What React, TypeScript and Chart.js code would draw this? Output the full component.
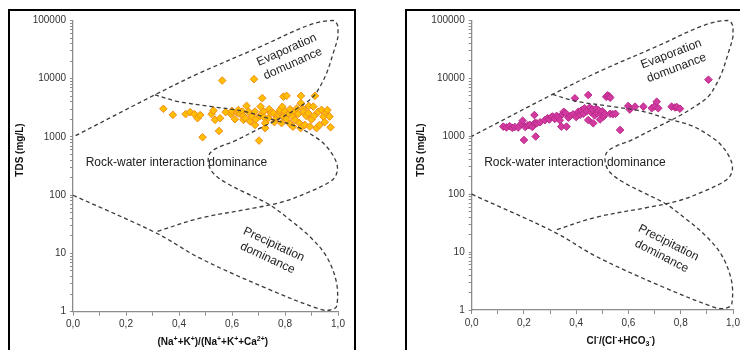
import { useEffect, useRef } from "react";
import { Chart, registerables } from "chart.js";

Chart.register(...registerables);

// Gibbs boundary curves: ratio (x) and TDS in mg/L (y)
const OUTER_RATIO = [0, 0.316, 0.479, 0.73, 0.932, 0.97, 0.995, 0.995, 0.957, 0.894, 0.819, 0.743, 0.655, 0.58, 0.529, 0.511, 0.517, 0.555, 0.605, 0.706, 0.794, 0.857, 0.907, 0.932, 0.957, 0.982, 1.0, 1.0, 0.982, 0.894, 0.706, 0.479, 0.309, 0];
const OUTER_TDS = [100, 22.2, 8.3, 2.52, 1.1, 1.07, 1.25, 3.08, 8.8, 19.4, 37.7, 68, 108, 161, 239, 355, 527, 684, 834, 1416, 2243, 3327, 4940, 7340, 12470, 27500, 53100, 78800, 100000, 84400, 35300, 12600, 5290, 1000];
const INNER_RATIO = [0.309, 0.397, 0.523, 0.649, 0.756, 0.844, 0.919, 0.955, 0.985, 0.998, 0.99, 0.965, 0.894, 0.794, 0.68, 0.479, 0.316];
const INNER_TDS = [5290, 4060, 3330, 2730, 1970, 1510, 966, 700, 450, 300, 210, 165, 115, 77.6, 59.8, 40.3, 23.7];

// Samples: (Na+K)/(Na+K+Ca) vs TDS
const CATION_RATIO = [0.341, 0.377, 0.425, 0.442, 0.458, 0.47, 0.48, 0.489, 0.523, 0.53, 0.536, 0.551, 0.555, 0.563, 0.576, 0.596, 0.6, 0.611, 0.621, 0.624, 0.63, 0.639, 0.643, 0.643, 0.65, 0.655, 0.662, 0.668, 0.675, 0.683, 0.687, 0.687, 0.69, 0.702, 0.706, 0.708, 0.714, 0.719, 0.72, 0.725, 0.725, 0.737, 0.74, 0.746, 0.756, 0.76, 0.768, 0.775, 0.78, 0.781, 0.787, 0.79, 0.794, 0.794, 0.8, 0.806, 0.806, 0.815, 0.819, 0.819, 0.83, 0.83, 0.838, 0.838, 0.845, 0.85, 0.854, 0.859, 0.86, 0.86, 0.869, 0.87, 0.875, 0.88, 0.888, 0.89, 0.894, 0.9, 0.907, 0.91, 0.913, 0.919, 0.925, 0.93, 0.938, 0.945, 0.95, 0.955, 0.96, 0.968, 0.972];
const CATION_TDS = [3050, 2400, 2470, 2670, 2470, 2100, 2380, 990, 2470, 2840, 1970, 1270, 2100, 9310, 2670, 2470, 2800, 2020, 2630, 2900, 2500, 2730, 1970, 2300, 2100, 3420, 2730, 1850, 2240, 9840, 2730, 1610, 2000, 867, 2300, 3330, 4640, 2730, 2200, 1730, 1420, 2100, 3000, 2570, 2570, 1800, 2100, 2400, 2700, 2920, 1730, 3300, 4940, 2240, 2730, 5080, 2020, 2500, 3000, 1680, 2250, 1500, 2730, 1970, 3100, 2500, 1730, 1420, 5080, 3810, 3000, 2700, 1610, 2300, 2570, 3400, 1510, 2000, 3330, 2300, 5080, 1420, 2700, 1600, 2920, 2240, 1800, 2630, 2900, 2240, 1470];

// Samples: Cl/(Cl+HCO3) vs TDS
const ANION_RATIO = [0.121, 0.133, 0.145, 0.155, 0.165, 0.178, 0.19, 0.195, 0.2, 0.205, 0.215, 0.223, 0.232, 0.24, 0.242, 0.245, 0.249, 0.262, 0.28, 0.29, 0.297, 0.305, 0.31, 0.318, 0.325, 0.332, 0.337, 0.343, 0.347, 0.352, 0.36, 0.363, 0.37, 0.378, 0.388, 0.395, 0.4, 0.408, 0.415, 0.42, 0.427, 0.432, 0.44, 0.446, 0.446, 0.452, 0.457, 0.462, 0.465, 0.47, 0.476, 0.48, 0.486, 0.491, 0.496, 0.5, 0.505, 0.51, 0.515, 0.52, 0.526, 0.53, 0.53, 0.54, 0.55, 0.568, 0.599, 0.605, 0.625, 0.657, 0.689, 0.7, 0.708, 0.714, 0.765, 0.778, 0.785, 0.797, 0.906];
const ANION_TDS = [1470, 1420, 1500, 1400, 1450, 1420, 1650, 1860, 863, 1450, 1550, 1570, 1450, 2330, 1700, 990, 1680, 1750, 1900, 2050, 1950, 2150, 2200, 2000, 2250, 2100, 1900, 1470, 2400, 2650, 2500, 1470, 2100, 2250, 2400, 4530, 2150, 2650, 2350, 2800, 2450, 3050, 2700, 1910, 5170, 3150, 2600, 2900, 1680, 2300, 3000, 2500, 2800, 1950, 2400, 2700, 2200, 2450, 4800, 5100, 4900, 4650, 2450, 2400, 2450, 1285, 3340, 2900, 3250, 3250, 3050, 3300, 3960, 3050, 3250, 3150, 3200, 3000, 9500];

const Y_DECADES = [1, 10, 100, 1000, 10000];
const Y_MAX = 100000;
const X_LABEL_STEP = 0.2;

const FONT = "'Liberation Sans', Arial, sans-serif";

type Seg = { t: string; s?: "sup" | "sub" };
type Note = { lines: string[]; x: number; y: number; rot: number };

const CATION_TITLE: Seg[] = [
  { t: "(Na" }, { t: "+", s: "sup" }, { t: "+K" }, { t: "+", s: "sup" }, { t: ")/(Na" }, { t: "+", s: "sup" },
  { t: "+K" }, { t: "+", s: "sup" }, { t: "+Ca" }, { t: "2+", s: "sup" }, { t: ")" },
];
const ANION_TITLE: Seg[] = [
  { t: "Cl" }, { t: "-", s: "sup" }, { t: "/(Cl" }, { t: "-", s: "sup" }, { t: "+HCO" }, { t: "3", s: "sub" },
  { t: "-", s: "sup" }, { t: ")" },
];

function drawRich(ctx: CanvasRenderingContext2D, segs: Seg[], cx: number, cy: number, size: number) {
  const base = `bold ${size}px ${FONT}`;
  const small = `bold ${Math.round(size * 0.72)}px ${FONT}`;
  let total = 0;
  const widths = segs.map((s) => {
    ctx.font = s.s ? small : base;
    const w = ctx.measureText(s.t).width;
    total += w;
    return w;
  });
  ctx.save();
  ctx.textAlign = "left";
  ctx.textBaseline = "alphabetic";
  let x = cx - total / 2;
  const bl = cy + size * 0.36;
  segs.forEach((s, i) => {
    ctx.font = s.s ? small : base;
    const dy = s.s === "sup" ? -size * 0.42 : s.s === "sub" ? size * 0.22 : 0;
    ctx.fillText(s.t, x, bl + dy);
    x += widths[i];
  });
  ctx.restore();
}

type PanelProps = {
  left: number;
  width: number;
  area: { left: number; right: number; top: number; bottom: number };
  ratio: number[];
  tds: number[];
  fill: string;
  stroke: string;
  xTitle: Seg[];
  xTitlePos: [number, number];
  yTitlePos: [number, number];
  notes: Note[];
};

function Panel(p: PanelProps) {
  const ref = useRef<HTMLCanvasElement>(null);
  useEffect(() => {
    const canvas = ref.current!;
    const H = 350;
    const samples = p.ratio.map((x, i) => ({ x, y: p.tds[i] }));
    const outer = OUTER_RATIO.map((x, i) => ({ x, y: OUTER_TDS[i] }));
    const inner = INNER_RATIO.map((x, i) => ({ x, y: INNER_TDS[i] }));
    const lineDs = (data: { x: number; y: number }[]) => ({
      data,
      showLine: true,
      pointRadius: 0,
      borderColor: "#3a3a3a",
      borderWidth: 1.3,
      borderDash: [4, 3],
      tension: 0.35,
      fill: false,
      clip: 8,
    });
    const textPlugin = {
      id: "gibbsText",
      afterDatasetsDraw(chart: any) {
        const ctx: CanvasRenderingContext2D = chart.ctx;
        const xs = chart.scales.x;
        const ys = chart.scales.y;
        ctx.save();
        ctx.fillStyle = "#222";
        ctx.font = `12px ${FONT}`;
        ctx.textAlign = "center";
        ctx.textBaseline = "middle";
        p.notes.forEach((n) => {
          const cx = xs.getPixelForValue(n.x);
          const cy = ys.getPixelForValue(n.y);
          ctx.save();
          ctx.translate(cx, cy);
          ctx.rotate((n.rot * Math.PI) / 180);
          n.lines.forEach((l, i) => {
            ctx.fillText(l, 0, (i - (n.lines.length - 1) / 2) * 15);
          });
          ctx.restore();
        });
        ctx.fillStyle = "#111";
        drawRich(ctx, p.xTitle, p.xTitlePos[0], p.xTitlePos[1], 10);
        ctx.save();
        ctx.translate(p.yTitlePos[0], p.yTitlePos[1]);
        ctx.rotate(-Math.PI / 2);
        ctx.font = `bold 10px ${FONT}`;
        ctx.textAlign = "center";
        ctx.textBaseline = "middle";
        ctx.fillText("TDS (mg/L)", 0, 0);
        ctx.restore();
        ctx.restore();
      },
    };
    const chart = new Chart(canvas, {
      type: "scatter",
      data: {
        datasets: [
          lineDs(outer) as any,
          lineDs(inner) as any,
          {
            data: samples,
            pointStyle: "rectRot",
            pointRadius: 3.8,
            pointBackgroundColor: p.fill,
            pointBorderColor: p.stroke,
            pointBorderWidth: 1,
            showLine: false,
          },
        ],
      },
      options: {
        responsive: false,
        animation: false,
        events: [],
        layout: { padding: { left: 0, top: p.area.top, right: p.width - p.area.right, bottom: 0 } },
        plugins: { legend: { display: false }, tooltip: { enabled: false } },
        scales: {
          x: {
            type: "linear",
            min: 0,
            max: 1,
            afterFit: (s: any) => {
              s.height = H - p.area.bottom;
            },
            ticks: {
              stepSize: 0.1,
              autoSkip: false,
              maxRotation: 0,
              padding: 3,
              color: "#333",
              font: { family: FONT, size: 10 },
              callback: (v: any) => {
                const n = Math.round(Number(v) * 10);
                return n % Math.round(X_LABEL_STEP * 10) === 0 ? (n / 10).toFixed(1).replace(".", ",") : "";
              },
            },
            grid: { drawOnChartArea: false, drawTicks: true, tickLength: 4, color: "#8c8c8c" },
            border: { color: "#8c8c8c", width: 1.3 },
          },
          y: {
            type: "logarithmic",
            min: 1,
            max: Y_MAX,
            afterFit: (s: any) => {
              s.width = p.area.left;
            },
            afterBuildTicks: (s: any) => {
              const t: { value: number }[] = [];
              Y_DECADES.forEach((d) => {
                for (let m = 1; m < 10; m++) t.push({ value: m * d });
              });
              t.push({ value: Y_MAX });
              s.ticks = t;
            },
            ticks: {
              autoSkip: false,
              padding: 4,
              color: "#333",
              font: { family: FONT, size: 10 },
              callback: (v: any) => {
                const n = Number(v);
                return n === Y_MAX || Y_DECADES.includes(n) ? String(n) : "";
              },
            },
            grid: { drawOnChartArea: false, drawTicks: true, tickLength: 3, color: "#8c8c8c" },
            border: { color: "#8c8c8c", width: 1.3 },
          },
        },
      },
      plugins: [textPlugin],
    });
    return () => chart.destroy();
  }, []);
  return (
    <canvas
      ref={ref}
      width={p.width}
      height={350}
      style={{ position: "absolute", left: p.left, top: 0, width: p.width, height: 350 }}
    />
  );
}

export default function App() {
  return (
    <div style={{ position: "fixed", left: 0, top: 0, width: 740, height: 350, overflow: "hidden", background: "#fff" }}>
      <div style={{ position: "absolute", left: 8, top: 9, width: 348, height: 400, border: "2px solid #000", boxSizing: "border-box" }} />
      <div style={{ position: "absolute", left: 405, top: 9, width: 400, height: 400, border: "2px solid #000", boxSizing: "border-box" }} />
      <Panel
        left={0}
        width={370}
        area={{ left: 73, right: 338, top: 20.5, bottom: 311.7 }}
        ratio={CATION_RATIO}
        tds={CATION_TDS}
        fill="#FFBF00"
        stroke="#F08C1E"
        xTitle={CATION_TITLE}
        xTitlePos={[212.8, 341.7]}
        yTitlePos={[20, 150]}
        notes={[
          { lines: ["Evaporation", "domunance"], x: 0.818, y: 23800, rot: -24 },
          { lines: ["Rock-water interaction dominance"], x: 0.39, y: 359, rot: 0 },
          { lines: ["Precipitation", "dominance"], x: 0.746, y: 10.9, rot: 25 },
        ]}
      />
      <Panel
        left={370}
        width={400}
        area={{ left: 101.7, right: 363, top: 20.5, bottom: 310 }}
        ratio={ANION_RATIO}
        tds={ANION_TDS}
        fill="#D33A9F"
        stroke="#B82A8A"
        xTitle={ANION_TITLE}
        xTitlePos={[250.8, 340]}
        yTitlePos={[51.7, 150]}
        notes={[
          { lines: ["Evaporation", "domunance"], x: 0.774, y: 19950, rot: -21 },
          { lines: ["Rock-water interaction dominance"], x: 0.395, y: 346, rot: 0 },
          { lines: ["Precipitation", "dominance"], x: 0.74, y: 11.1, rot: 27 },
        ]}
      />
    </div>
  );
}
